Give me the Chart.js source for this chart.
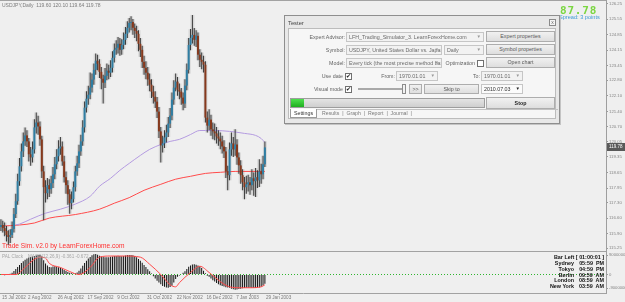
<!DOCTYPE html>
<html lang="en">
<head>
<meta charset="utf-8">
<title>USDJPY,Daily - Tester</title>
<script src="https://cdn.jsdelivr.net/npm/chart.js@4.4.1/dist/chart.umd.min.js"></script>
<style>
  html, body { margin: 0; padding: 0; background: #efefef; }
  #wrap { position: relative; width: 625px; height: 302px; overflow: hidden; background: #efefef; font-family: 'Liberation Sans', Arial, sans-serif; }
  #chart { position: absolute; left: 0; top: 0; }
  .txt { position: absolute; white-space: nowrap; line-height: 1; }
  #tester { position: absolute; left: 284px; top: 15px; width: 276px; height: 109px; box-sizing: border-box; border: 1px solid #8e8e8e; background: #e8e8e8; box-shadow: 1px 1px 0 #c4c4c4; }
  #tester .title { position: absolute; left: 3px; top: 4px; font-size: 5.8px; color: #444; }
  #tester .close { position: absolute; right: 3px; top: 3px; width: 7px; height: 7px; box-sizing: border-box; border: 1px solid #8a8a8a; background: #f4f4f4; font-size: 5px; line-height: 5px; text-align: center; color: #666; }
  #tester .panel { position: absolute; left: 3px; top: 12px; width: 268px; height: 91px; box-sizing: border-box; border: 1px solid #bcbcbc; background: #f6f6f6; }
  .lbl { position: absolute; height: 10px; font-size: 5.3px; line-height: 10px; color: #636363; text-align: right; white-space: nowrap; }
  .fld { position: absolute; height: 10px; box-sizing: border-box; border: 1px solid #c6c6c6; background: #f2f2f2; font-size: 5.3px; line-height: 8px; color: #6a6a6a; padding-left: 2px; white-space: nowrap; overflow: hidden; }
  .fld .arr { position: absolute; right: 2px; top: 0; color: #9a9a9a; font-size: 4.5px; }
  .fld .arr.dark { color: #222; }
  .btn { position: absolute; height: 11px; box-sizing: border-box; border: 1px solid #adadad; background: linear-gradient(#f1f1f1, #dedede); font-size: 5.3px; line-height: 9px; color: #585858; text-align: center; white-space: nowrap; }
  .chk { position: absolute; width: 7px; height: 7px; box-sizing: border-box; border: 1px solid #707070; background: #fff; font-size: 5.5px; line-height: 5px; text-align: center; color: #111; }
  .clock { position: absolute; left: 540px; width: 64px; height: 6px; font-size: 5.4px; font-weight: bold; line-height: 6px; color: #111; white-space: nowrap; }
  .clock .nm { position: absolute; right: 30px; top: 0; text-align: right; }
  .clock .tm { position: absolute; right: 0; top: 0; }
</style>
</head>
<body>
<div id="wrap">
  <canvas id="chart" width="625" height="302"></canvas>

  <div class="txt" style="left:2px;top:3px;font-size:5px;color:#7c7c7c;">USDJPY,Daily&nbsp; 119.60 120.10 119.64 119.78</div>
  <div class="txt" style="left:560px;top:5px;font-family:'DejaVu Sans Mono',monospace;font-weight:bold;font-size:11px;letter-spacing:0.8px;color:#7ad640;">87.78</div>
  <div class="txt" style="left:559px;top:14.5px;font-size:5.6px;color:#3d9ad6;">Spread: 3 points</div>
  <div class="txt" style="left:2px;top:243px;font-size:6.6px;color:#ff3030;">Trade Sim. v2.0 by LearnForexHome.com</div>
  <div class="txt" style="left:2px;top:255px;font-size:4.6px;color:#a6a6a6;">PAL Clock</div>
  <div class="txt" style="left:28px;top:255px;font-size:4.6px;color:#a6a6a6;">MACD(12,26,9) -0.361 -0.672</div>

  <div class="clock" style="top:254px;"><span class="tm">Bar Left [ 01:00:01 ]</span></div>
  <div class="clock" style="top:260px;"><span class="nm">Sydney</span><span class="tm">05:59&nbsp; PM</span></div>
  <div class="clock" style="top:265.8px;"><span class="nm">Tokyo</span><span class="tm">04:59&nbsp; PM</span></div>
  <div class="clock" style="top:271.6px;"><span class="nm">Berlin</span><span class="tm">09:59&nbsp; AM</span></div>
  <div class="clock" style="top:277.4px;"><span class="nm">London</span><span class="tm">08:59&nbsp; AM</span></div>
  <div class="clock" style="top:283.2px;"><span class="nm">New York</span><span class="tm">03:59&nbsp; AM</span></div>

  <div id="tester">
    <div class="title">Tester</div>
    <div class="close">x</div>
    <div class="panel"></div>
  </div>

  <div class="lbl" style="left:290px;top:32px;width:55px;">Expert Advisor:</div>
  <div class="fld" style="left:346px;top:32px;width:138px;">LFH_Trading_Simulator_3. LearnForexHome.com<span class="arr">&#9660;</span></div>
  <div class="btn" style="left:486px;top:31px;width:69px;">Expert properties</div>

  <div class="lbl" style="left:290px;top:45px;width:55px;">Symbol:</div>
  <div class="fld" style="left:346px;top:45px;width:96px;">USDJPY, United States Dollar vs. Japan<span class="arr">&#9660;</span></div>
  <div class="fld" style="left:444px;top:45px;width:40px;">Daily<span class="arr">&#9660;</span></div>
  <div class="btn" style="left:486px;top:44px;width:69px;">Symbol properties</div>

  <div class="lbl" style="left:290px;top:58px;width:55px;">Model:</div>
  <div class="fld" style="left:346px;top:58px;width:96px;">Every tick (the most precise method bas<span class="arr">&#9660;</span></div>
  <div class="lbl" style="left:430px;top:58px;width:45px;">Optimization</div>
  <div class="chk" style="left:477px;top:59.5px;"></div>
  <div class="btn" style="left:486px;top:57px;width:69px;">Open chart</div>

  <div class="lbl" style="left:300px;top:71px;width:43px;">Use date</div>
  <div class="chk" style="left:345px;top:72.5px;">&#10004;</div>
  <div class="lbl" style="left:370px;top:71px;width:25px;">From:</div>
  <div class="fld" style="left:396px;top:71px;width:42px;">1970.01.01<span class="arr">&#9660;</span></div>
  <div class="lbl" style="left:455px;top:71px;width:25px;">To:</div>
  <div class="fld" style="left:481px;top:71px;width:42px;">1970.01.01<span class="arr">&#9660;</span></div>

  <div class="lbl" style="left:300px;top:84px;width:43px;">Visual mode</div>
  <div class="chk" style="left:345px;top:85.5px;">&#10004;</div>
  <div style="position:absolute;left:358px;top:88px;width:47px;height:2px;border:1px solid #a9a9a9;background:#fafafa;box-sizing:border-box;"></div>
  <div style="position:absolute;left:402px;top:84px;width:4px;height:10px;border:1px solid #8c8c8c;background:#f2f2f2;box-sizing:border-box;"></div>
  <div class="btn" style="left:409px;top:84px;width:13px;height:10px;line-height:8px;">&gt;&gt;</div>
  <div class="btn" style="left:424px;top:84px;width:55px;height:10px;line-height:8px;">Skip to</div>
  <div class="fld" style="left:481px;top:84px;width:42px;background:#fbfbfb;color:#333;">2010.07.03<span class="arr dark">&#9660;</span></div>

  <div style="position:absolute;left:290px;top:98px;width:195px;height:10px;border:1px solid #9d9d9d;background:linear-gradient(#e4e4e4,#cfcfcf);box-sizing:border-box;">
    <div style="position:absolute;left:0;top:0;width:13px;height:8px;background:linear-gradient(#4ee04e,#1fae1f);"></div>
  </div>
  <div class="btn" style="left:486px;top:97px;width:69px;height:12px;line-height:10px;font-weight:bold;color:#222;">Stop</div>

  <div style="position:absolute;left:317px;top:109px;width:241px;height:1px;background:#c2c2c2;"></div>
  <div style="position:absolute;left:290px;top:109px;width:27px;height:9px;box-sizing:border-box;border:1px solid #9a9a9a;border-top:none;background:#fff;font-size:5.3px;line-height:8px;text-align:center;color:#333;">Settings</div>
  <div class="txt" style="left:322px;top:111px;font-size:5.2px;color:#7a7a7a;">Results&nbsp; |&nbsp; Graph&nbsp; |&nbsp; Report&nbsp; |&nbsp; Journal&nbsp; |</div>
</div>

<script>
// daily bars, 15 Jul 2002 .. 29 Jan 2003 (index 0..142)
const opens = [
  116.20,116.29,116.15,116.02,115.84,115.75,115.84,116.11,116.78,117.36,
  118.26,118.93,119.60,120.05,120.32,120.05,119.47,119.33,119.69,120.68,
  120.90,120.72,120.14,118.70,117.99,117.72,118.08,117.90,118.17,118.57,
  119.02,119.38,119.73,119.82,119.15,118.44,118.08,117.67,117.27,117.45,
  117.99,118.70,119.06,119.60,120.05,120.68,121.57,121.97,122.15,122.47,
  122.83,123.27,123.68,123.54,123.18,122.87,122.69,123.00,123.23,123.14,
  123.36,123.81,124.17,124.26,124.44,124.17,124.39,124.62,124.89,125.16,
  125.38,125.42,125.16,125.02,124.89,124.44,124.17,123.63,123.36,123.14,
  122.83,122.60,122.29,122.06,121.84,121.39,120.50,119.87,119.96,120.23,
  120.45,120.85,121.21,121.93,122.47,122.74,122.38,122.29,122.02,121.75,
  122.56,123.27,124.39,124.71,124.84,124.62,124.80,123.95,123.72,123.63,
  123.50,121.12,120.76,121.03,120.59,120.50,120.41,120.27,120.18,120.05,
  119.82,119.60,118.70,118.53,119.69,119.96,119.69,119.91,119.33,118.97,
  118.53,118.21,117.99,118.12,118.21,118.08,118.39,118.26,118.44,118.30,
  118.70,118.57,119.02
];
const highs = [
  116.55,116.48,116.40,116.25,116.05,116.10,116.45,117.05,117.70,118.60,
  119.30,119.95,120.45,120.68,120.55,120.20,119.80,120.05,121.05,121.35,
  121.20,120.95,120.30,118.95,118.30,118.40,118.35,118.50,118.90,119.35,
  119.70,120.10,120.25,120.05,119.40,118.70,118.30,117.90,117.80,118.25,
  118.95,119.40,119.90,120.35,121.00,121.85,122.30,122.55,123.15,123.10,
  123.55,124.00,123.95,123.75,123.40,123.05,123.35,123.55,123.50,123.70,
  124.10,124.45,124.60,124.75,124.70,124.65,124.95,125.20,125.45,125.60,
  125.68,125.55,125.35,125.25,125.05,124.70,124.35,123.90,123.65,123.40,
  123.10,122.85,122.55,122.30,122.05,121.60,120.70,120.30,120.55,120.80,
  121.15,121.55,122.25,122.80,123.10,122.95,122.65,122.45,122.25,122.85,
  123.55,124.70,125.10,125.74,125.15,125.05,124.95,124.20,124.05,123.90,
  123.65,121.40,121.50,121.25,120.90,120.85,120.70,120.55,120.45,120.30,
  120.10,119.80,118.95,120.00,120.45,120.25,120.60,120.15,119.55,119.20,
  118.80,118.45,118.50,118.55,118.45,118.80,118.65,118.85,118.75,119.25,
  119.05,119.40,120.05
];
const lows = [
  116.02,115.95,115.78,115.55,115.38,115.48,115.70,115.95,116.60,117.20,
  118.05,118.70,119.35,119.85,119.80,119.15,118.95,119.10,119.50,120.40,
  120.35,119.85,118.40,116.50,117.30,117.45,117.55,117.70,117.95,118.35,
  118.80,119.15,119.45,118.95,118.20,117.70,117.20,116.80,117.00,117.30,
  117.80,118.50,118.85,119.40,119.85,120.45,121.35,121.70,121.95,122.25,
  122.60,123.05,123.25,122.90,122.40,121.75,122.45,122.80,122.85,122.95,
  123.15,123.60,123.95,124.00,123.90,123.95,124.20,124.40,124.70,124.95,
  125.05,124.85,124.70,124.55,124.10,123.85,123.35,123.05,122.85,122.55,
  122.30,122.00,121.75,121.55,121.10,120.20,119.10,119.55,119.75,120.00,
  120.25,120.65,121.00,121.70,122.30,122.10,121.95,121.70,121.45,121.55,
  122.35,123.10,124.15,124.45,124.35,124.30,123.70,123.40,123.30,123.15,
  120.90,120.45,120.55,120.30,120.15,120.10,119.95,119.85,119.70,119.50,
  119.30,118.40,117.85,118.30,119.40,119.35,119.40,119.00,118.60,118.15,
  117.85,117.45,117.70,117.80,117.65,117.85,117.60,117.55,117.95,118.00,
  118.15,118.35,118.90
];
const closes = [
  116.29,116.15,116.02,115.84,115.75,115.84,116.11,116.78,117.36,118.26,
  118.93,119.60,120.05,120.32,120.05,119.47,119.33,119.69,120.68,120.90,
  120.72,120.14,118.70,117.99,117.72,118.08,117.90,118.17,118.57,119.02,
  119.38,119.73,119.82,119.15,118.44,118.08,117.67,117.27,117.45,117.99,
  118.70,119.06,119.60,120.05,120.68,121.57,121.97,122.15,122.47,122.83,
  123.27,123.68,123.54,123.18,122.87,122.69,123.00,123.23,123.14,123.36,
  123.81,124.17,124.26,124.44,124.17,124.39,124.62,124.89,125.16,125.38,
  125.42,125.16,125.02,124.89,124.44,124.17,123.63,123.36,123.14,122.83,
  122.60,122.29,122.06,121.84,121.39,120.50,119.87,119.96,120.23,120.45,
  120.85,121.21,121.93,122.47,122.74,122.38,122.29,122.02,121.75,122.56,
  123.27,124.39,124.71,124.84,124.62,124.80,123.95,123.72,123.63,123.50,
  121.12,120.76,121.03,120.59,120.50,120.41,120.27,120.18,120.05,119.82,
  119.60,118.70,118.53,119.69,119.96,119.69,119.91,119.33,118.97,118.53,
  118.21,117.99,118.12,118.21,118.08,118.39,118.26,118.44,118.30,118.70,
  118.57,119.02,119.78
];

// moving averages, read at a few bars
const fastMaIdx = [8,10,16,24,32,40,48,53,59,64,69,75,80,86,91,96,102,107,110,115,123,131,137,140,142];
const fastMaVal = [116.29,116.33,116.55,116.82,117.00,117.23,117.58,118.03,118.39,118.75,119.06,119.42,119.69,119.91,120.05,120.14,120.36,120.54,120.54,120.54,120.50,120.41,120.32,120.18,120.00];
const slowMaIdx = [0,10,18,26,40,53,61,69,77,86,94,102,110,118,126,134,142];
const slowMaVal = [116.24,116.29,116.38,116.60,116.76,117.00,117.27,117.52,117.85,118.12,118.35,118.48,118.61,118.66,118.70,118.70,118.70];

// MACD histogram and signal
const macdHist = [
  0.00,-0.02,-0.03,-0.02,0.00,0.03,0.08,0.15,0.24,0.33,
  0.42,0.50,0.58,0.65,0.70,0.74,0.77,0.79,0.81,0.83,
  0.85,0.85,0.80,0.62,0.48,0.40,0.33,0.32,0.35,0.36,
  0.34,0.32,0.30,0.26,0.20,0.15,0.11,0.08,0.05,0.04,
  0.05,0.09,0.16,0.26,0.38,0.50,0.60,0.70,0.77,0.84,
  0.89,0.90,0.87,0.82,0.79,0.77,0.76,0.76,0.76,0.78,
  0.79,0.81,0.81,0.82,0.81,0.80,0.81,0.83,0.85,0.86,
  0.86,0.84,0.81,0.76,0.68,0.60,0.52,0.42,0.33,0.23,
  0.14,0.04,-0.08,-0.17,-0.27,-0.35,-0.43,-0.50,-0.54,-0.57,
  -0.58,-0.55,-0.49,-0.35,-0.20,-0.10,-0.04,0.02,0.08,0.14,
  0.24,0.34,0.40,0.44,0.45,0.43,0.39,0.36,0.28,0.17,
  0.06,-0.05,-0.10,-0.18,-0.25,-0.31,-0.37,-0.43,-0.47,-0.50,
  -0.53,-0.56,-0.57,-0.58,-0.62,-0.65,-0.67,-0.66,-0.64,-0.62,
  -0.60,-0.59,-0.58,-0.58,-0.58,-0.59,-0.59,-0.58,-0.58,-0.57,
  -0.54,-0.48,-0.40
];
const signalIdx = [0,5,8,13,18,21,24,26,32,37,42,48,53,59,67,75,80,86,91,94,96,102,107,112,118,123,129,134,140,142];
const signalVal = [0,0,0,0.31,0.67,0.76,0.72,0.49,0.31,0.13,0,0.31,0.76,0.81,0.81,0.76,0.45,0,-0.45,-0.54,-0.36,0.09,0.36,0.09,-0.31,-0.54,-0.58,-0.58,-0.54,-0.45];

// axis labels
const dateTickIdx = [0,14,30,46,62,78,94,110,126,142];
const dateTickLabels = ['15 Jul 2002','2 Aug 2002','26 Aug 2002','17 Sep 2002','9 Oct 2002','31 Oct 2002','22 Nov 2002','16 Dec 2002','7 Jan 2003','29 Jan 2003'];
const priceTicks = [115.25,115.90,116.60,117.30,117.95,118.65,119.35,120.05,120.70,121.40,122.10,122.80,123.45,124.15,124.85,125.55,126.25];
const macdTicks = [0.85, 0, -0.6];
const macdTickLabels = ['9000000', '0', '-9000000'];

const slotCount = 326; // bar slots across the window (right part is empty)

document.addEventListener('DOMContentLoaded', function() {
    showChart();
});

function points(idx, vals) {
    return idx.map((x, k) => ({x: x, y: vals[k]}));
}

function showChart() {
    const canvasChart = document.getElementById('chart').getContext('2d');
    const bull = '#2f7ea3';
    const bear = '#86391d';
    const bodyColors = closes.map((c, i) => c >= opens[i] ? bull : bear);
    const lastClose = closes[closes.length - 1];

    // pane separators, price tag and date labels (MT4 puts dates right of the tick)
    const paneFrame = {
        id: 'paneFrame',
        afterDraw(chart) {
            const {ctx, chartArea, scales} = chart;
            ctx.save();
            ctx.strokeStyle = '#a2a2a2';
            ctx.lineWidth = 1;
            ctx.beginPath();
            ctx.moveTo(0, 0.5);
            ctx.lineTo(chartArea.right, 0.5);
            const sep = Math.round(scales.y.bottom) + 0.5;
            ctx.moveTo(0, sep);
            ctx.lineTo(chartArea.right, sep);
            ctx.stroke();

            const py = Math.round(scales.y.getPixelForValue(lastClose));
            ctx.fillStyle = '#595959';
            ctx.fillRect(chartArea.right + 1, py - 4, 19, 8);
            ctx.fillStyle = '#ffffff';
            ctx.font = '4.5px "Liberation Sans"';
            ctx.textBaseline = 'middle';
            ctx.fillText(lastClose.toFixed(2), chartArea.right + 3, py);

            ctx.fillStyle = '#7a7a7a';
            ctx.font = '4.6px "Liberation Sans"';
            ctx.textAlign = 'left';
            const ly = chartArea.bottom + 4.5;
            dateTickIdx.forEach((idx, k) => {
                const px = scales.x.getPixelForValue(idx);
                ctx.fillText(dateTickLabels[k], Math.max(px, 1) + 1, ly);
            });
            ctx.restore();
        }
    };

    new Chart(canvasChart, {
        type: 'bar',
        data: {
            datasets: [
                {
                    label: 'body',
                    data: opens.map((o, i) => ({x: i, y: [o, closes[i]]})),
                    backgroundColor: bodyColors,
                    barThickness: 2,
                    grouped: false,
                    inflateAmount: 0,
                    yAxisID: 'y',
                    order: 1
                },
                {
                    label: 'wick',
                    data: lows.map((l, i) => ({x: i, y: [l, highs[i]]})),
                    backgroundColor: '#3a3a3a',
                    barThickness: 1,
                    grouped: false,
                    inflateAmount: 0,
                    yAxisID: 'y',
                    order: 2
                },
                {
                    label: 'halo',
                    data: lows.map((l, i) => ({x: i, y: [l, highs[i]]})),
                    backgroundColor: 'rgba(130,130,130,0.22)',
                    barThickness: 4,
                    grouped: false,
                    inflateAmount: 0,
                    yAxisID: 'y',
                    order: 5
                },
                {
                    type: 'line',
                    label: 'MA fast',
                    data: points(fastMaIdx, fastMaVal),
                    borderColor: '#b49be0',
                    borderWidth: 1,
                    pointRadius: 0,
                    cubicInterpolationMode: 'monotone',
                    yAxisID: 'y',
                    order: 3
                },
                {
                    type: 'line',
                    label: 'MA slow',
                    data: points(slowMaIdx, slowMaVal),
                    borderColor: '#ff4b4b',
                    borderWidth: 1,
                    pointRadius: 0,
                    cubicInterpolationMode: 'monotone',
                    yAxisID: 'y',
                    order: 3
                },
                {
                    label: 'MACD',
                    data: macdHist.map((h, i) => ({x: i, y: h})),
                    backgroundColor: '#111111',
                    barThickness: 1,
                    grouped: false,
                    inflateAmount: 0,
                    yAxisID: 'y2',
                    order: 2
                },
                {
                    type: 'line',
                    label: 'Signal',
                    data: points(signalIdx, signalVal),
                    borderColor: '#ff4a4a',
                    borderWidth: 1,
                    pointRadius: 0,
                    cubicInterpolationMode: 'monotone',
                    yAxisID: 'y2',
                    order: 1
                },
                {
                    type: 'line',
                    label: 'zero',
                    data: [{x: -0.5, y: 0}, {x: slotCount - 0.5, y: 0}],
                    borderColor: '#2fb52f',
                    borderWidth: 1,
                    borderDash: [1, 2],
                    pointRadius: 0,
                    yAxisID: 'y2',
                    order: 4
                }
            ]
        },
        options: {
            responsive: false,
            animation: false,
            devicePixelRatio: 1,
            layout: { padding: 0 },
            plugins: {
                legend: { display: false },
                tooltip: { enabled: false }
            },
            scales: {
                x: {
                    type: 'linear',
                    offset: false,
                    min: -0.5,
                    max: slotCount - 0.5,
                    afterBuildTicks: s => { s.ticks = dateTickIdx.map(v => ({value: v})); },
                    afterFit: s => { s.height = 9; s.paddingLeft = 0; s.paddingRight = 0; },
                    ticks: { display: false },
                    grid: { display: true, drawOnChartArea: false, tickLength: 2, color: '#9a9a9a' },
                    border: { color: '#a2a2a2' }
                },
                y: {
                    position: 'right',
                    stack: 'panes',
                    stackWeight: 251,
                    min: 115.12,
                    max: 126.41,
                    afterBuildTicks: s => { s.ticks = priceTicks.map(v => ({value: v})); },
                    afterFit: s => { s.width = 19; s.paddingTop = 0; s.paddingBottom = 0; },
                    ticks: {
                        autoSkip: false,
                        padding: 1,
                        color: '#858585',
                        font: { family: 'Liberation Sans', size: 4.3 },
                        callback: v => v.toFixed(2)
                    },
                    grid: { display: true, drawOnChartArea: false, tickLength: 2, color: '#9a9a9a' },
                    border: { color: '#9e9e9e' }
                },
                y2: {
                    position: 'right',
                    stack: 'panes',
                    stackWeight: 42,
                    min: -0.81,
                    max: 1.03,
                    afterBuildTicks: s => { s.ticks = macdTicks.map(v => ({value: v})); },
                    afterFit: s => { s.width = 19; s.paddingTop = 0; s.paddingBottom = 0; },
                    ticks: {
                        autoSkip: false,
                        padding: 1,
                        color: '#858585',
                        font: { family: 'Liberation Sans', size: 4.2 },
                        callback: (v, i) => macdTickLabels[i]
                    },
                    grid: { display: true, drawOnChartArea: false, tickLength: 2, color: '#9a9a9a' },
                    border: { color: '#9e9e9e' }
                }
            }
        },
        plugins: [paneFrame]
    });
}
</script>
</body>
</html>
